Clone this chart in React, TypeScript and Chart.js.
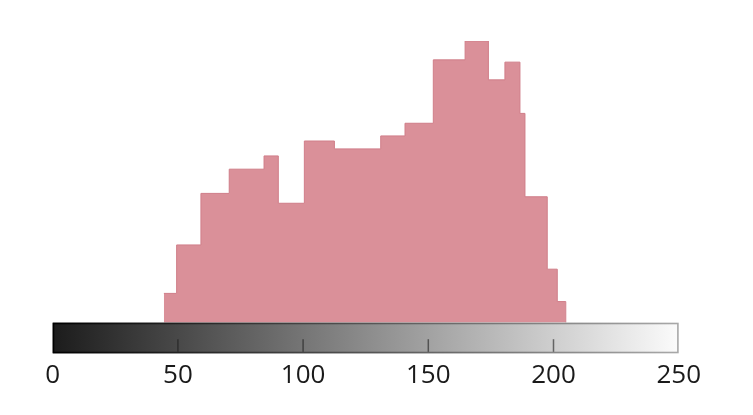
import React, { useEffect, useRef } from "react";
import { Chart, registerables } from "chart.js";

Chart.register(...registerables);

// Histogram bin left edges (intensity values) and counts (relative, max = 100)
const binEdges = [44.4, 49.5, 59.2, 70.5, 84.4, 90.1, 100.5, 112.5, 131, 140.7, 152, 164.7, 174, 180.6, 186.6, 188.6, 197.5, 201.5, 204.9];
const binCounts = [10.4, 27.6, 45.9, 54.5, 59.2, 42.4, 64.5, 61.7, 66.3, 70.8, 93.3, 100, 86.2, 92.5, 74.3, 44.7, 19, 7.5, 0];
const tickValues = [0, 50, 100, 150, 200, 250];
const xMin = 0;
const xMax = 250;

const colorbarPlugin = {
  id: "colorbar",
  afterDatasetsDraw(chart: any) {
    const { ctx, chartArea, scales } = chart;
    const xs = scales.x;
    const x0 = xs.getPixelForValue(xMin);
    const x1 = xs.getPixelForValue(xMax);
    const top = chartArea.bottom;
    const h = 30.6;
    ctx.save();
    const g = ctx.createLinearGradient(x0, 0, x1, 0);
    g.addColorStop(0, "#1c1c1c");
    g.addColorStop(1, "#fbfbfb");
    ctx.fillStyle = g;
    ctx.fillRect(x0, top, x1 - x0, h);
    const sg = ctx.createLinearGradient(x0, 0, x1, 0);
    sg.addColorStop(0, "#000000");
    sg.addColorStop(1, "#a8a8a8");
    ctx.strokeStyle = sg;
    ctx.lineWidth = 1.6;
    ctx.strokeRect(x0 + 0.8, top + 0.8, x1 - x0 - 1.6, h - 1.6);
    ctx.strokeStyle = "rgba(30,30,30,0.6)";
    ctx.lineWidth = 1.5;
    for (const v of tickValues) {
      if (v === xMin || v === xMax) continue;
      const px = xs.getPixelForValue(v);
      ctx.beginPath();
      ctx.moveTo(px, top + 16.5);
      ctx.lineTo(px, top + h - 1.5);
      ctx.stroke();
    }
    ctx.restore();
  },
};

export default function App() {
  const ref = useRef<HTMLCanvasElement | null>(null);
  useEffect(() => {
    if (!ref.current) return;
    const data = binEdges.map((e, i) => ({ x: e, y: binCounts[i] }));
    const chart = new Chart(ref.current, {
      type: "line",
      data: {
        datasets: [
          {
            data,
            stepped: true,
            fill: "origin",
            backgroundColor: "rgb(218,144,153)",
            borderColor: "rgb(208,126,137)",
            borderWidth: 1,
            pointRadius: 0,
          },
        ],
      },
      options: {
        responsive: false,
        animation: false,
        layout: { padding: { left: 52.7, right: 74.3, top: 41, bottom: 23.4 } },
        plugins: { legend: { display: false }, tooltip: { enabled: false } },
        scales: {
          x: {
            type: "linear",
            min: xMin,
            max: xMax,
            afterBuildTicks: (axis: any) => {
              axis.ticks = tickValues.map((v) => ({ value: v }));
            },
            afterFit: (axis: any) => {
              axis.height = 68.9;
            },
            grid: { display: false, drawTicks: false },
            border: { display: false },
            ticks: {
              padding: 37.7,
              color: "#1a1a1a",
              font: { family: "'Open Sans'", size: 26 },
              maxRotation: 0,
              autoSkip: false,
            },
          },
          y: {
            display: false,
            min: 0,
            max: 100,
          },
        },
      },
      plugins: [colorbarPlugin],
    });
    return () => chart.destroy();
  }, []);
  return (
    <div style={{ position: "fixed", left: 0, top: 0, width: 753, height: 415, background: "#fff" }}>
      <canvas ref={ref} width={753} height={415} />
    </div>
  );
}
